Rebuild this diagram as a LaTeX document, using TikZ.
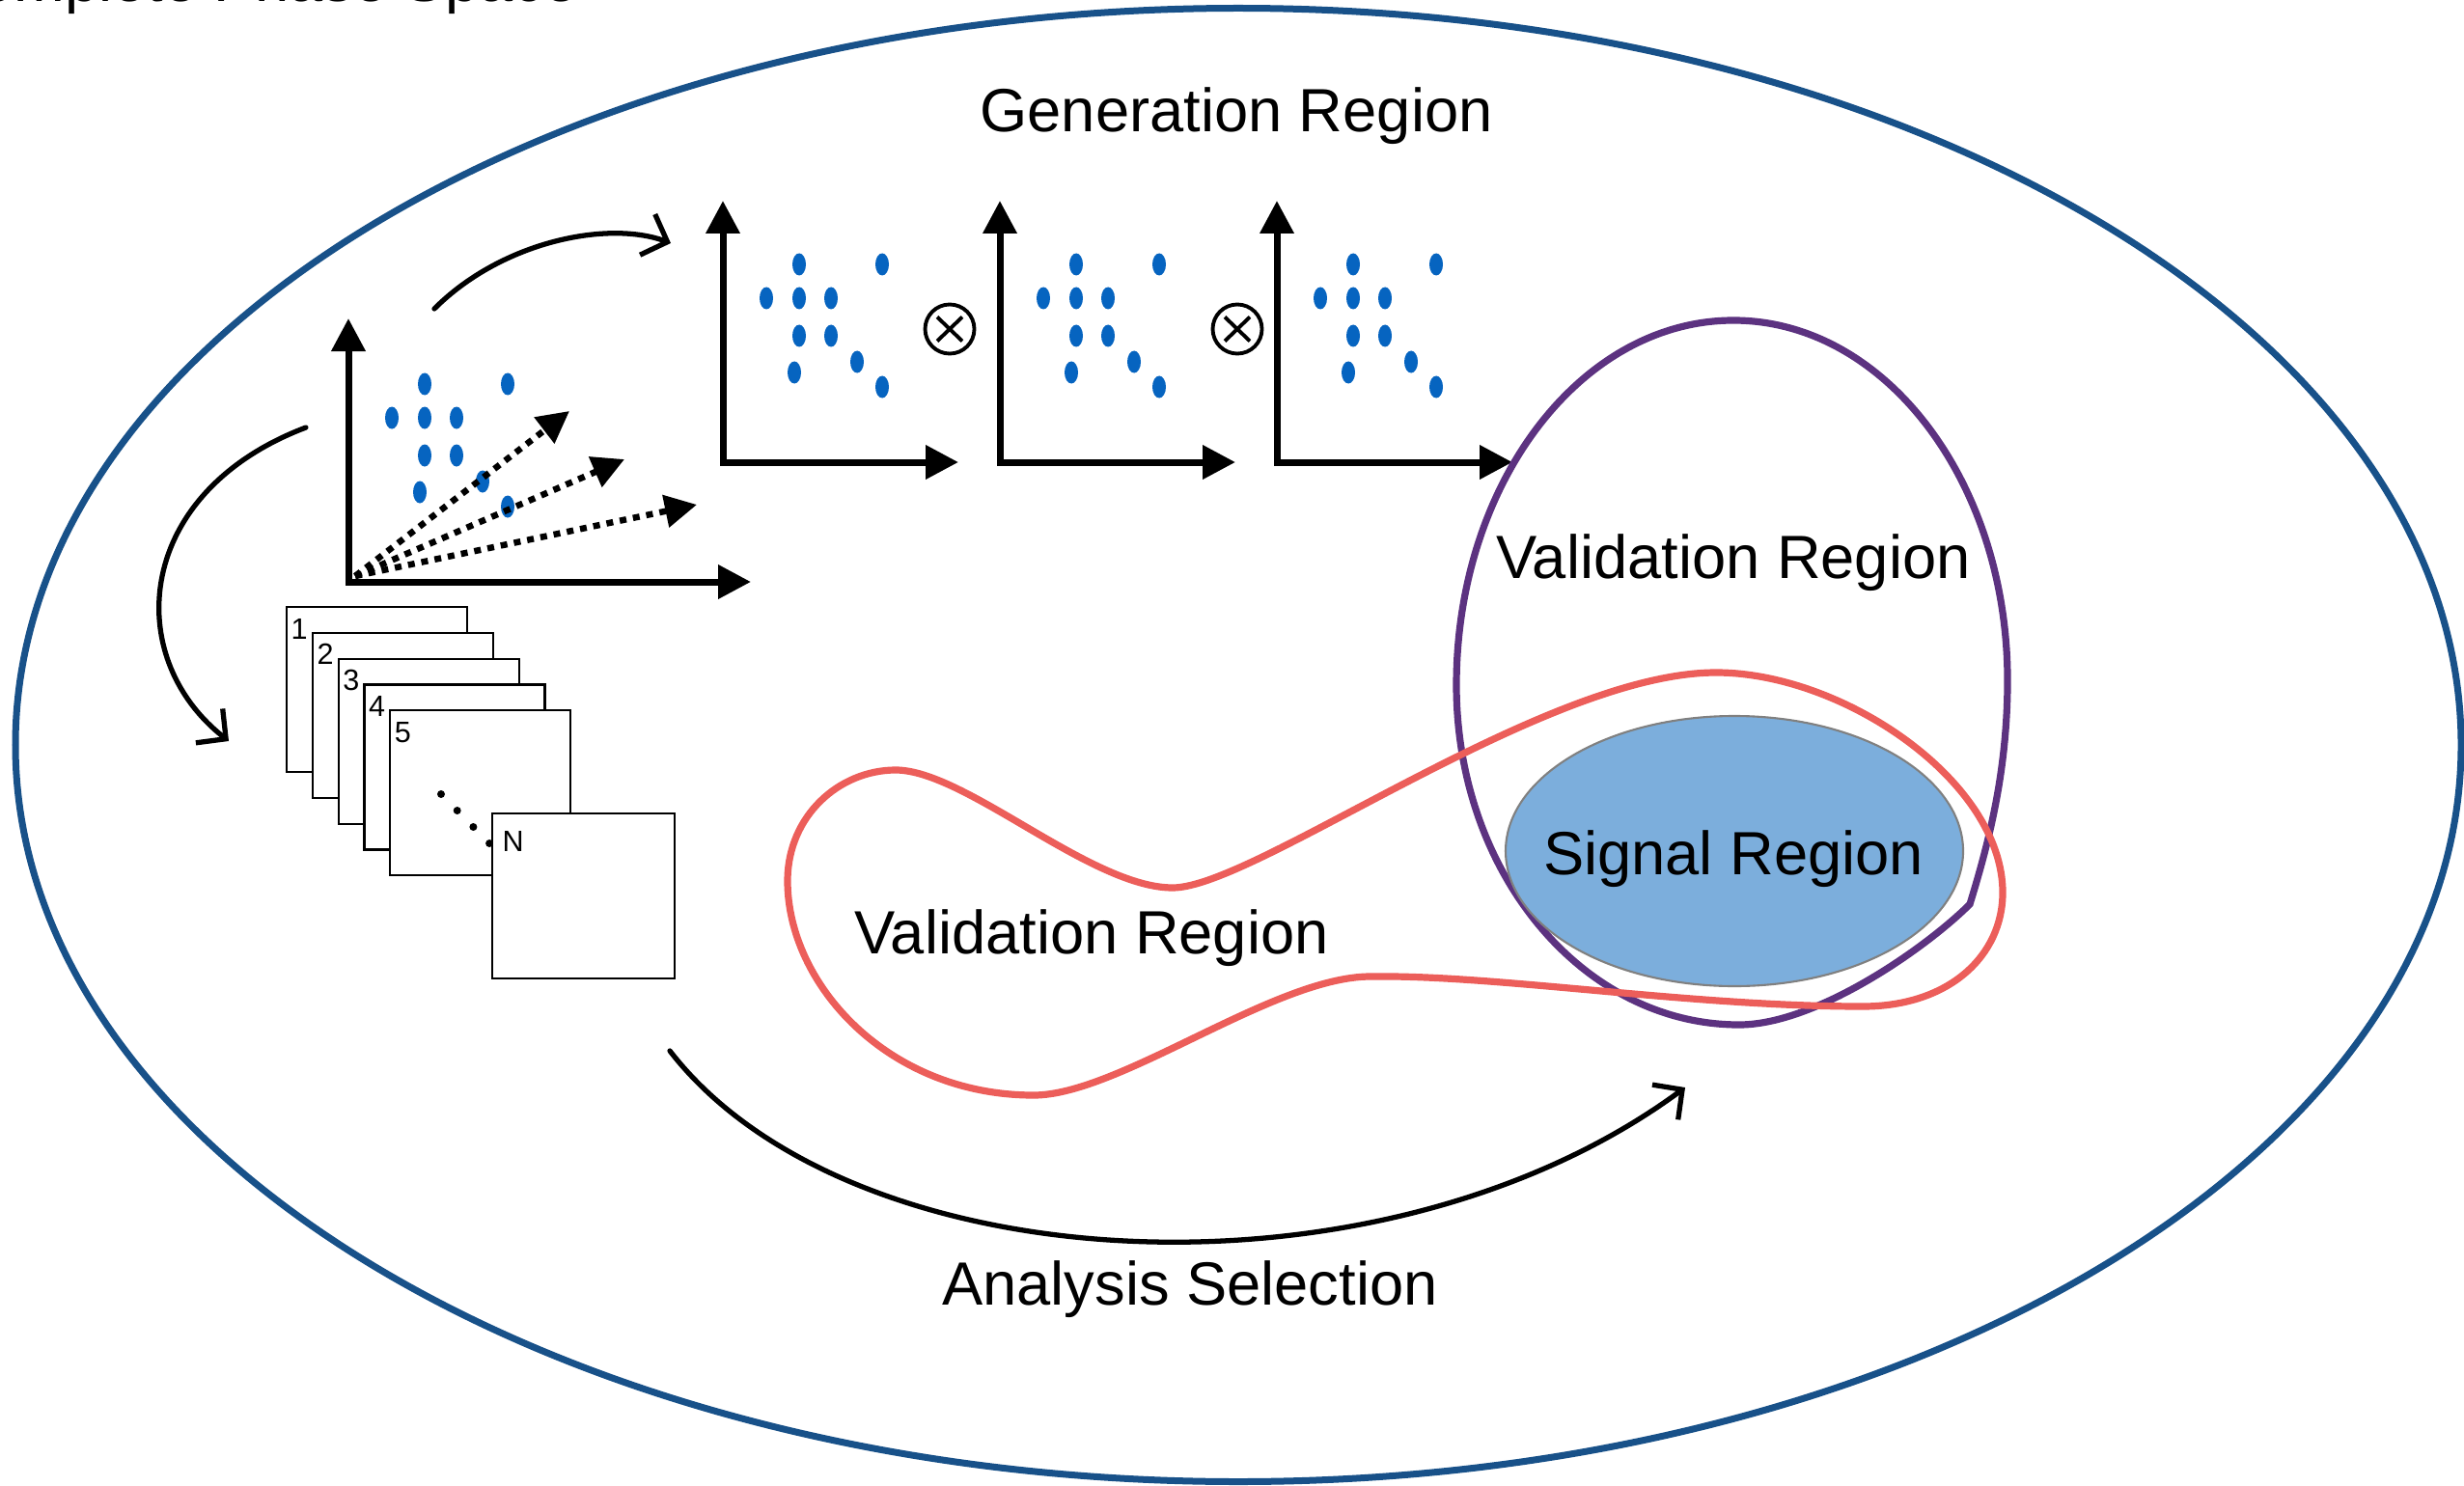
\documentclass[tikz,border=0pt]{standalone}
\usepackage{fontspec}
\setmainfont{Liberation Sans}
\usetikzlibrary{calc}
\usetikzlibrary{arrows.meta}

\definecolor{phaseblue}{RGB}{24,81,137}
\definecolor{valpurple}{RGB}{92,50,128}
\definecolor{valred}{RGB}{236,94,90}
\definecolor{sigfill}{RGB}{124,174,220}
\definecolor{dotblue}{RGB}{6,100,192}

\tikzset{
	axisline/.style={line width=0.07cm, line join=miter, {Triangle[length=0.34cm,width=0.34cm]}-{Triangle[length=0.34cm,width=0.34cm]}},
	fan/.style={line width=0.065cm, dash pattern=on 0.07cm off 0.07cm, -{Triangle[length=0.33cm,width=0.33cm]}},
	sketch/.style={line width=1.5pt, line cap=round, -{Straight Barb[length=0.22cm,width=0.45cm,line width=1.5pt]}},
	sheet/.style={draw, fill=white, line width=0.6pt, minimum width=1.87cm, minimum height=1.71cm, inner sep=0pt, anchor=north west},
	sheetnum/.style={font=\fontsize{8.7}{10}\selectfont, anchor=base west, inner sep=0pt},
	region/.style={font=\fontsize{18}{21.6}\selectfont, anchor=base, inner sep=0pt},
	otimes/.style={draw, circle, line width=1.1pt, minimum size=0.51cm, inner sep=0pt},
}

% same scatter of events in every plot, relative to its origin
\newcommand{\dotcloud}[1]{%
	\foreach \dx/\dy in {0.79/-2.05, 1.65/-2.05, 0.45/-1.70, 0.79/-1.70, 1.12/-1.70, 0.79/-1.31, 1.12/-1.31, 0.74/-0.93, 1.39/-1.04, 1.65/-0.78}
		\fill[dotblue] ($(#1)+(\dx,\dy)$) ellipse [x radius=0.07cm, y radius=0.115cm];
}

\begin{document}
\begin{tikzpicture}[x=1cm, y=-1cm]
	\useasboundingbox (0,0) rectangle (25.53,15.39);

	\draw [phaseblue, line width=0.07cm] (12.83,7.72) ellipse [x radius=12.67cm, y radius=7.635cm];
	\node [region, anchor=base west] (title) at (-0.67,0.02) {Complete Phase Space};
	\node [region] (gen) at (12.81,1.37) {Generation Region};

	% seed plot with the fanned directions
	\coordinate (o0) at (3.61,6.03);
	\draw [axisline] ($(o0)+(0,-2.73)$) -- (o0) -- ($(o0)+(4.17,0)$);
	\dotcloud{o0}
	\coordinate (f0) at (3.68,5.97);
	\foreach \tx/\ty in {5.90/4.26, 6.47/4.76, 7.22/5.23}
		\draw [fan] (f0) -- (\tx,\ty);

	% factorised plots
	\foreach \i/\ox in {1/7.49, 2/10.36, 3/13.23} {
		\coordinate (o\i) at (\ox,4.79);
		\draw [axisline] ($(o\i)+(0,-2.71)$) -- (o\i) -- ($(o\i)+(2.44,0)$);
		\dotcloud{o\i}
	}
	\node [otimes] (x1) at (9.84,3.41) {};
	\node [otimes] (x2) at (12.82,3.41) {};
	\foreach \m in {x1,x2}
		\draw [line width=1.1pt] ($(\m)+(-0.13,-0.125)$) -- ($(\m)+(0.13,0.125)$) ($(\m)+(-0.13,0.125)$) -- ($(\m)+(0.13,-0.125)$);

	% stack of toys
	\foreach \i in {1,...,5} {
		\node [sheet] (s\i) at ({2.96+0.268*(\i-1)},{6.28+0.268*(\i-1)}) {};
		\node [sheetnum] (n\i) at ($(s\i.north west)+(0.05,0.34)$) {\i};
	}
	\foreach \k in {0,...,3}
		\fill ($(4.57,8.23)+(0.167*\k,0.17*\k)$) circle [radius=0.04cm];
	\node [sheet, minimum width=1.89cm] (sN) at (5.09,8.42) {};
	\node [sheetnum] (nN) at ($(sN.north west)+(0.11,0.40)$) {N};

	% regions
	\draw [valpurple, line width=0.072cm] (17.96,3.32) .. controls (19.53,3.32) and (20.80,4.99) .. (20.80,7.05)
		.. controls (20.80,8.00) and (20.60,8.75) .. (20.41,9.37)
		.. controls (19.96,9.82) and (18.82,10.62) .. (18.02,10.62)
		.. controls (16.40,10.62) and (15.09,9.05) .. (15.09,7.10)
		.. controls (15.09,5.01) and (16.38,3.32) .. cycle;
	\filldraw [fill=sigfill, draw=gray, line width=0.6pt] (17.97,8.82) ellipse [x radius=2.37cm, y radius=1.40cm];
	\draw [valred, line width=0.072cm] (8.16,9.13) .. controls (8.16,8.45) and (8.70,7.98) .. (9.28,7.98)
		.. controls (10.00,7.98) and (11.30,9.20) .. (12.15,9.20)
		.. controls (13.00,9.20) and (16.00,6.97) .. (17.78,6.97)
		.. controls (19.10,6.97) and (20.75,8.10) .. (20.75,9.25)
		.. controls (20.75,9.90) and (20.20,10.43) .. (19.30,10.43)
		.. controls (17.50,10.43) and (15.50,10.10) .. (14.20,10.12)
		.. controls (13.20,10.12) and (11.60,11.35) .. (10.71,11.35)
		.. controls (9.20,11.35) and (8.16,10.20) .. cycle;

	\node [region] (valtop) at (17.96,5.99) {Validation Region};
	\node [region] (sigtxt) at (17.96,9.06) {Signal Region};
	\node [region] (valleft) at (11.31,9.88) {Validation Region};
	\node [region] (sel) at (12.33,13.52) {Analysis Selection};

	% hand drawn arrows
	\coordinate (a1) at (4.50,3.20);
	\coordinate (a2) at (6.95,2.52);
	\draw [sketch] (a1) .. controls (5.20,2.50) and (6.30,2.28) .. (a2);
	\coordinate (b1) at (3.17,4.43);
	\coordinate (b2) at (2.37,7.68);
	\draw [sketch] (b1) .. controls (1.40,5.10) and (1.25,6.80) .. (b2);
	\coordinate (c1) at (6.94,10.89);
	\coordinate (c2) at (17.46,11.27);
	\draw [sketch] (c1) .. controls (8.80,13.30) and (14.30,13.60) .. (c2);
\end{tikzpicture}
\end{document}
